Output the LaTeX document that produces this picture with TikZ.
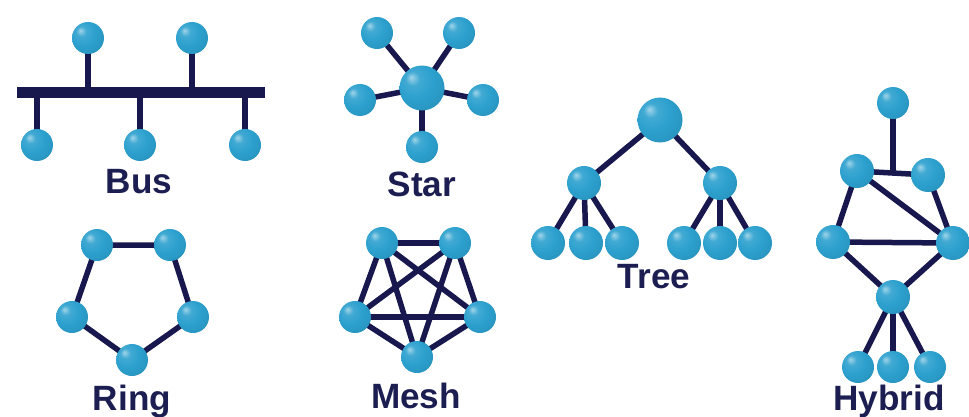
\documentclass[tikz,border=0pt]{standalone}
\usepackage{fontspec}
\setmainfont{Liberation Sans}
\pgfdeclarelayer{background}
\pgfsetlayers{background,main}
\definecolor{ballc}{RGB}{44,160,206}
\definecolor{linec}{RGB}{24,24,78}
\definecolor{textc}{RGB}{28,30,82}
\pgfdeclareradialshading{myball}{\pgfqpoint{-12bp}{12bp}}{%
  color(0bp)=(ballc!45!white); color(8bp)=(ballc!90!white);
  color(20bp)=(ballc); color(42bp)=(ballc!88!black); color(62bp)=(ballc!65!black)}
\tikzset{
  ball/.style={circle, inner sep=0pt, minimum size=0.64cm, shading=myball},
  bigball/.style={ball, minimum size=0.9cm},
  midball/.style={ball, minimum size=0.68cm},
  link/.style={draw=linec, line width=0.11cm},
  busbar/.style={draw=linec, line width=0.22cm},
  lbl/.style={anchor=base, text=textc, font=\fontsize{20}{24}\selectfont\bfseries, inner sep=0pt}
}
\begin{document}
\begin{tikzpicture}[x=0.02cm,y=-0.02cm]
\useasboundingbox (0,0) rectangle (969,416);
% ---------- Bus ----------
\node[ball] (bu1) at (88,38) {};
\node[ball] (bu2) at (192,38) {};
\node[ball] (bd1) at (37,145) {};
\node[ball] (bd2) at (140,145) {};
\node[ball] (bd3) at (245,145) {};
\coordinate (busL) at (17,92);
\coordinate (busR) at (265,92);
\node[lbl] (lbus) at (139,193) {Bus};
% ---------- Star ----------
\node[bigball] (sc) at (422,88) {};
\node[ball] (s1) at (377,33) {};
\node[ball] (s2) at (459,33) {};
\node[ball] (s3) at (360,100) {};
\node[ball] (s4) at (483,100) {};
\node[ball] (s5) at (422,147) {};
\node[lbl] (lstar) at (422,196) {Star};
% ---------- Tree ----------
\node[bigball] (tr) at (660,120) {};
\node[midball] (tl) at (584,183) {};
\node[midball] (tm) at (720,183) {};
\node[midball] (t1) at (548,243) {};
\node[midball] (t2) at (586,243) {};
\node[midball] (t3) at (622,243) {};
\node[midball] (t4) at (684,243) {};
\node[midball] (t5) at (720,243) {};
\node[midball] (t6) at (755,243) {};
\node[lbl] (ltree) at (654,288) {Tree};
% ---------- Hybrid ----------
\node[ball] (hT) at (893,103) {};
\node[midball] (hUL) at (857,171) {};
\node[midball] (hUR) at (928,175) {};
\node[midball] (hML) at (833,242) {};
\node[midball] (hMR) at (953,243) {};
\node[midball] (hC) at (893,297) {};
\node[ball] (hB1) at (858,367) {};
\node[ball] (hB2) at (893,367) {};
\node[ball] (hB3) at (930,367) {};
\coordinate (hJ) at (893,173);
\node[lbl] (lhyb) at (889,410) {Hybrid};
% ---------- Ring ----------
\node[ball] (r1) at (97,245) {};
\node[ball] (r2) at (170,245) {};
\node[ball] (r3) at (193,317) {};
\node[ball] (r4) at (132,360) {};
\node[ball] (r5) at (72,317) {};
\node[lbl] (lring) at (132,410) {Ring};
% ---------- Mesh ----------
\node[ball] (m1) at (382,243) {};
\node[ball] (m2) at (455,243) {};
\node[ball] (m3) at (480,317) {};
\node[ball] (m4) at (417,357) {};
\node[ball] (m5) at (355,317) {};
\node[lbl] (lmesh) at (416,408) {Mesh};
% ---------- links ----------
\begin{pgfonlayer}{background}
\fill[white] (0,0) rectangle (969,416);
\draw[busbar] (busL) -- (busR);
\draw[link] (bu1.center) -- (bu1.center |- busL);
\draw[link] (bu2.center) -- (bu2.center |- busL);
\draw[link] (bd1.center) -- (bd1.center |- busL);
\draw[link] (bd2.center) -- (bd2.center |- busL);
\draw[link] (bd3.center) -- (bd3.center |- busL);
\foreach \s in {s1,s2,s3,s4,s5} \draw[link] (sc.center) -- (\s.center);
\draw[link] (tr.center) -- (tl.center);
\draw[link] (tr.center) -- (tm.center);
\foreach \t in {t1,t2,t3} \draw[link] (tl.center) -- (\t.center);
\foreach \t in {t4,t5,t6} \draw[link] (tm.center) -- (\t.center);
\draw[link] (hT.center) -- (hJ);
\draw[link] (hUL.center) -- (hUR.center);
\draw[link] (hUL.center) -- (hML.center);
\draw[link] (hUR.center) -- (hMR.center);
\draw[link] (hUL.center) -- (hMR.center);
\draw[link] (hML.center) -- (hMR.center);
\draw[link] (hML.center) -- (hC.center);
\draw[link] (hMR.center) -- (hC.center);
\foreach \b in {hB1,hB2,hB3} \draw[link] (hC.center) -- (\b.center);
\draw[link, line join=round] (r1.center) -- (r2.center) -- (r3.center) -- (r4.center) -- (r5.center) -- cycle;
\foreach \a/\b in {m1/m2,m1/m3,m1/m4,m1/m5,m2/m3,m2/m4,m2/m5,m3/m4,m3/m5,m4/m5}
  \draw[link] (\a.center) -- (\b.center);
\end{pgfonlayer}
\end{tikzpicture}
\end{document}
